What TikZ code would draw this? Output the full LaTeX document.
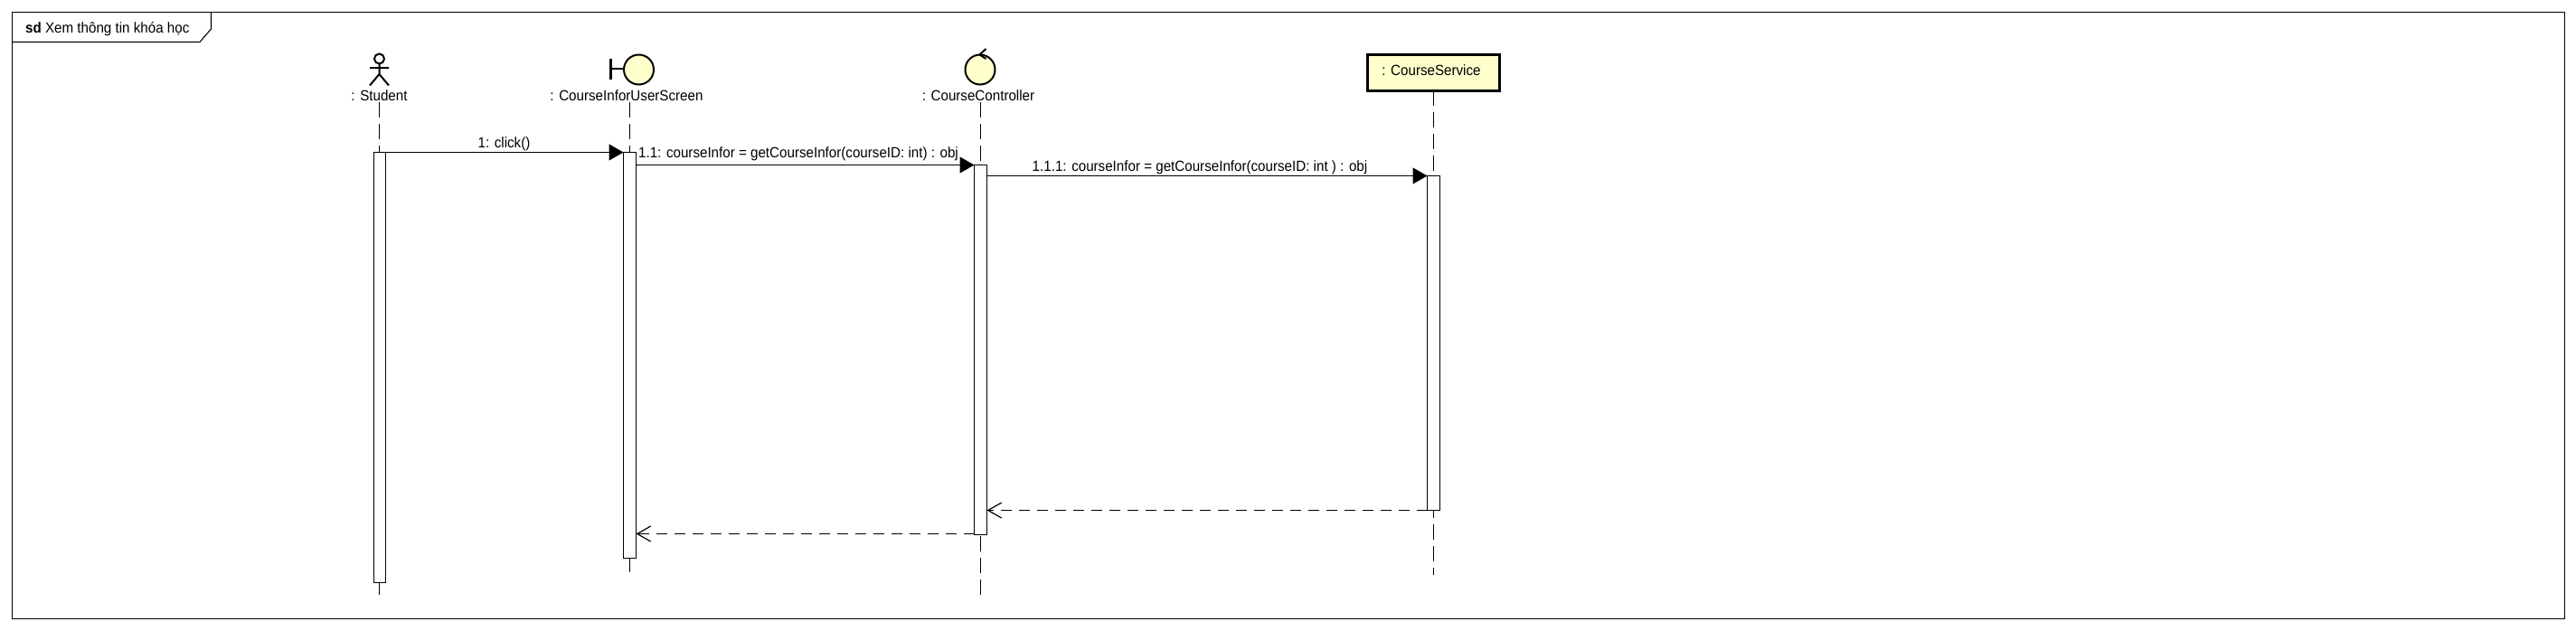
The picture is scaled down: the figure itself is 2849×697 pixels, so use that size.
\documentclass[tikz,border=0pt]{standalone}
\usepackage{fontspec}
\setmainfont[FakeStretch=0.93]{Liberation Sans}
\usetikzlibrary{arrows.meta}
\definecolor{lifefill}{rgb}{1,1,0.8}
\begin{document}
\begin{tikzpicture}[x=1pt,y=-1pt]
\tikzset{label/.style   = {text = black,
                           inner sep = 0pt,
                           font = \fontsize{16.3}{18}\selectfont},
         activation/.style = {draw,
                           fill = white,
                           line width = 1.1pt,
                           inner sep = 0pt,
                           outer sep = 0pt,
                           minimum width = 14pt},
         lifeline/.style = {line width = 1.2pt, dash pattern = on 17pt off 7pt},
         call/.style     = {line width = 1.2pt, -{Triangle[length=16pt,width=18pt]}},
         reply/.style    = {line width = 1.2pt, dash pattern = on 12pt off 8pt,
                           -{Straight Barb[length=15pt,width=17pt,line width=1.2pt]}},
         symbol/.style   = {line width = 2pt},
         entity/.style   = {symbol, fill = lifefill}}
\useasboundingbox (0,0) rectangle (2849,697);
\coordinate (F0) at (13.5,13.5);
\coordinate (F1) at (2836.5,684.5);
\coordinate (T0) at (13.5,46.5);
\coordinate (T1) at (221,46.5);
\coordinate (T2) at (233.5,32);
\coordinate (T3) at (233.5,13.5);
\coordinate (S0) at (419.5,113);
\coordinate (S1) at (419.5,658);
\coordinate (U0) at (696.5,113);
\coordinate (U1) at (696.5,633);
\coordinate (C0) at (1084.5,113);
\coordinate (C1) at (1084.5,658);
\coordinate (V1) at (1585.5,636);
\coordinate (M1a) at (426.5,168.5);
\coordinate (M1b) at (689.5,168.5);
\coordinate (M2a) at (703.5,182.5);
\coordinate (M2b) at (1077.5,182.5);
\coordinate (M3a) at (1091.5,194.5);
\coordinate (M3b) at (1578.5,194.5);
\coordinate (R1a) at (1578.5,564.5);
\coordinate (R1b) at (1091.5,564.5);
\coordinate (R2a) at (1077.5,590.5);
\coordinate (R2b) at (703.5,590.5);
% frame
\draw[line width=1.1pt] (F0) rectangle (F1);
\draw[line width=1.1pt] (T0) -- (T1) -- (T2) -- (T3);
\node[label,anchor=west] (title) at (28,32) {\textbf{sd} Xem thông tin khóa học};
% participants
\node[label] (lblStudent) at (419.5,106) {: Student};
\node[label] (lblScreen) at (693,106) {: CourseInforUserScreen};
\node[label] (lblControl) at (1082,106) {: CourseController};
\node[draw,line width=3pt,fill=lifefill,outer sep=0pt,minimum width=146pt,minimum height=39.5pt,inner sep=0pt] (service) at (1585.5,80.5) {};
\node[label] (lblService) at (1583,78) {: CourseService};
% actor
\draw[symbol] (419.5,65) circle (5.5);
\draw[symbol] (419.5,70.5) -- (419.5,82)
      (409,75) -- (430,75)
      (409,94.5) -- (419.5,82) -- (430,94.5);
% boundary
\draw[entity] (706.5,77) circle (16.5);
\draw[symbol,line width=2.2pt] (675.5,65) -- (675.5,87.5)
      (675.5,76) -- (690,76);
% control
\draw[entity] (1084,77) circle (16.5);
\draw[symbol] (1090.5,54) -- (1083.5,60.5) -- (1090.5,65);
% lifelines
\draw[lifeline] (S0) -- (S1);
\draw[lifeline] (U0) -- (U1);
\draw[lifeline] (C0) -- (C1);
\draw[lifeline] (service.south) -- (V1);
% activations
\node[activation,minimum width=13pt,minimum height=476pt] (actStudent) at (420,406.5) {};
\node[activation,minimum height=449pt] (actScreen) at (696.5,393) {};
\node[activation,minimum height=409pt] (actControl) at (1084.5,387) {};
\node[activation,minimum height=370pt] (actService) at (1585.5,379.5) {};
% messages
\draw[call] (M1a) -- (M1b);
\draw[call] (M2a) -- (M2b);
\draw[call] (M3a) -- (M3b);
\draw[reply] (R1a) -- (R1b);
\draw[reply] (R2a) -- (R2b);
\node[label] (txtClick) at (557.5,159) {1: click()};
\node[label] (txtCall) at (883,170) {1.1: courseInfor = getCourseInfor(courseID: int) : obj};
\node[label] (txtService) at (1327,185) {1.1.1: courseInfor = getCourseInfor(courseID: int ) : obj};
\end{tikzpicture}
\end{document}
